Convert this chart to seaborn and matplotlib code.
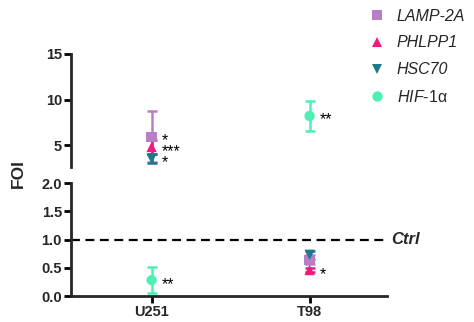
import matplotlib
matplotlib.use("Agg")
import matplotlib.pyplot as plt
import seaborn as sns
import pandas as pd
import numpy as np

cells = ["U251", "T98"]
genes = ["LAMP-2A", "PHLPP1", "HSC70", "HIF-1α"]
lamp_mean = [5.9, 0.64]
lamp_err = [2.8, 0.08]
phlpp_mean = [4.8, 0.46]
phlpp_err = [0.8, 0.04]
hsc_mean = [3.5, 0.73]
hsc_err = [0.5, 0.07]
hif_mean = [0.28, 8.2]
hif_err = [0.23, 1.6]
lamp_sig = ["*", ""]
phlpp_sig = ["***", "*"]
hsc_sig = ["*", ""]
hif_sig = ["**", "**"]
top_ticks = [5, 10, 15]
bottom_ticks = [0.0, 0.5, 1.0, 1.5, 2.0]

colors = ["#b77fc6", "#f3197d", "#1a7a8c", "#4cf0b2"]
markers = ["s", "^", "v", "o"]

sns.set_style("ticks")
plt.rcParams["font.family"] = ["Liberation Sans", "DejaVu Sans"]
plt.rcParams["mathtext.fontset"] = "custom"
plt.rcParams["mathtext.it"] = "Liberation Sans:italic"
plt.rcParams["mathtext.rm"] = "Liberation Sans"

means = [lamp_mean, phlpp_mean, hsc_mean, hif_mean]
errs = [lamp_err, phlpp_err, hsc_err, hif_err]
sigs = [lamp_sig, phlpp_sig, hsc_sig, hif_sig]

rows = []
for g, m, e, s in zip(genes, means, errs, sigs):
    for c, mv, ev, sv in zip(cells, m, e, s):
        rows.append(dict(cell=c, gene=g, FOI=mv, err=ev, sig=sv))
df = pd.DataFrame(rows)

fig = plt.figure(figsize=(4.74, 3.22), dpi=100)
L, W, H = 0.1498, 0.6667, 0.3509
ax_top = fig.add_axes([L, 0.4814, W, H])
ax_bot = fig.add_axes([L, 0.0807, W, H])
ax_top.set_ylim(2.6, 15)
ax_bot.set_ylim(0, 2.0)

palette = dict(zip(genes, colors))
mk = dict(zip(genes, markers))

for ax in (ax_top, ax_bot):
    for g in genes:
        sub = df[df.gene == g]
        xs = [cells.index(c) for c in sub.cell]
        ax.errorbar(xs, sub.FOI, yerr=sub.err, fmt="none", ecolor=palette[g],
                    elinewidth=1.8, capsize=3.5, capthick=1.8, zorder=2)
    sns.scatterplot(data=df, x="cell", y="FOI", hue="gene", style="gene",
                    palette=palette, markers=mk, hue_order=genes, style_order=genes,
                    s=55, edgecolor="none", linewidth=0, ax=ax, zorder=3,
                    legend=(ax is ax_top))
    lo, hi = ax.get_ylim()
    # significance marks: stack those for the same cell in this panel into one text
    for c in cells:
        sub = df[(df.cell == c) & (df.sig != "") & (df.FOI >= lo) & (df.FOI <= hi)]
        if sub.empty:
            continue
        sub = sub.sort_values("FOI", ascending=False)
        if len(sub) > 1:
            txt = "\n".join(sub.sig)
            yc = sub.FOI.mean()
            ax.annotate(txt, (cells.index(c), yc), xytext=(7, -3),
                        textcoords="offset points", ha="left", va="center",
                        fontsize=11.5, linespacing=0.7, color="black")
        else:
            r = sub.iloc[0]
            ax.annotate(r.sig, (cells.index(c), r.FOI), xytext=(7, -3),
                        textcoords="offset points", ha="left", va="center",
                        fontsize=11.5, color="black")
    ax.set_xlim(-0.51, 1.49)
    ax.set_xlabel("")
    ax.set_ylabel("")
    for sp in ax.spines.values():
        sp.set_linewidth(2)
    ax.tick_params(width=2, length=5, pad=1.5, labelsize=10.5, color="black")

ax_top.set_yticks(top_ticks)
ax_top.set_yticklabels([str(t) for t in top_ticks], fontweight="bold")
ax_top.spines[["top", "right", "bottom"]].set_visible(False)
ax_top.tick_params(axis="x", bottom=False, labelbottom=False)

ax_bot.set_yticks(bottom_ticks)
ax_bot.set_yticklabels([f"{t:.1f}" for t in bottom_ticks], fontweight="bold")
ax_bot.set_xticks([0, 1])
ax_bot.set_xticklabels(cells, fontweight="bold")
ax_bot.spines[["top", "right"]].set_visible(False)

ax_bot.axhline(1.0, color="black", linestyle=(0, (4, 2.5)), linewidth=1.6, zorder=1, clip_on=False)
ax_bot.text(1.515, 1.0, "Ctrl", fontsize=12, fontweight="bold", style="italic",
            ha="left", va="center")

fig.text(0.038, 0.46, "FOI", rotation=90, fontsize=12.5, fontweight="bold",
         ha="center", va="center")

h, l = ax_top.get_legend_handles_labels()
ax_top.get_legend().remove()
labels = ["LAMP-2A", "PHLPP1", "HSC70", "$\\mathit{HIF}$-1α"]
leg = fig.legend(h, labels, loc="upper left", bbox_to_anchor=(0.754, 1.008), frameon=False,
                 fontsize=11.5, handletextpad=0.75, labelspacing=0.74, borderaxespad=0.3,
                 handlelength=1.0)
for t in leg.get_texts()[:3]:
    t.set_style("italic")

fig.savefig("out.png", dpi=100)
